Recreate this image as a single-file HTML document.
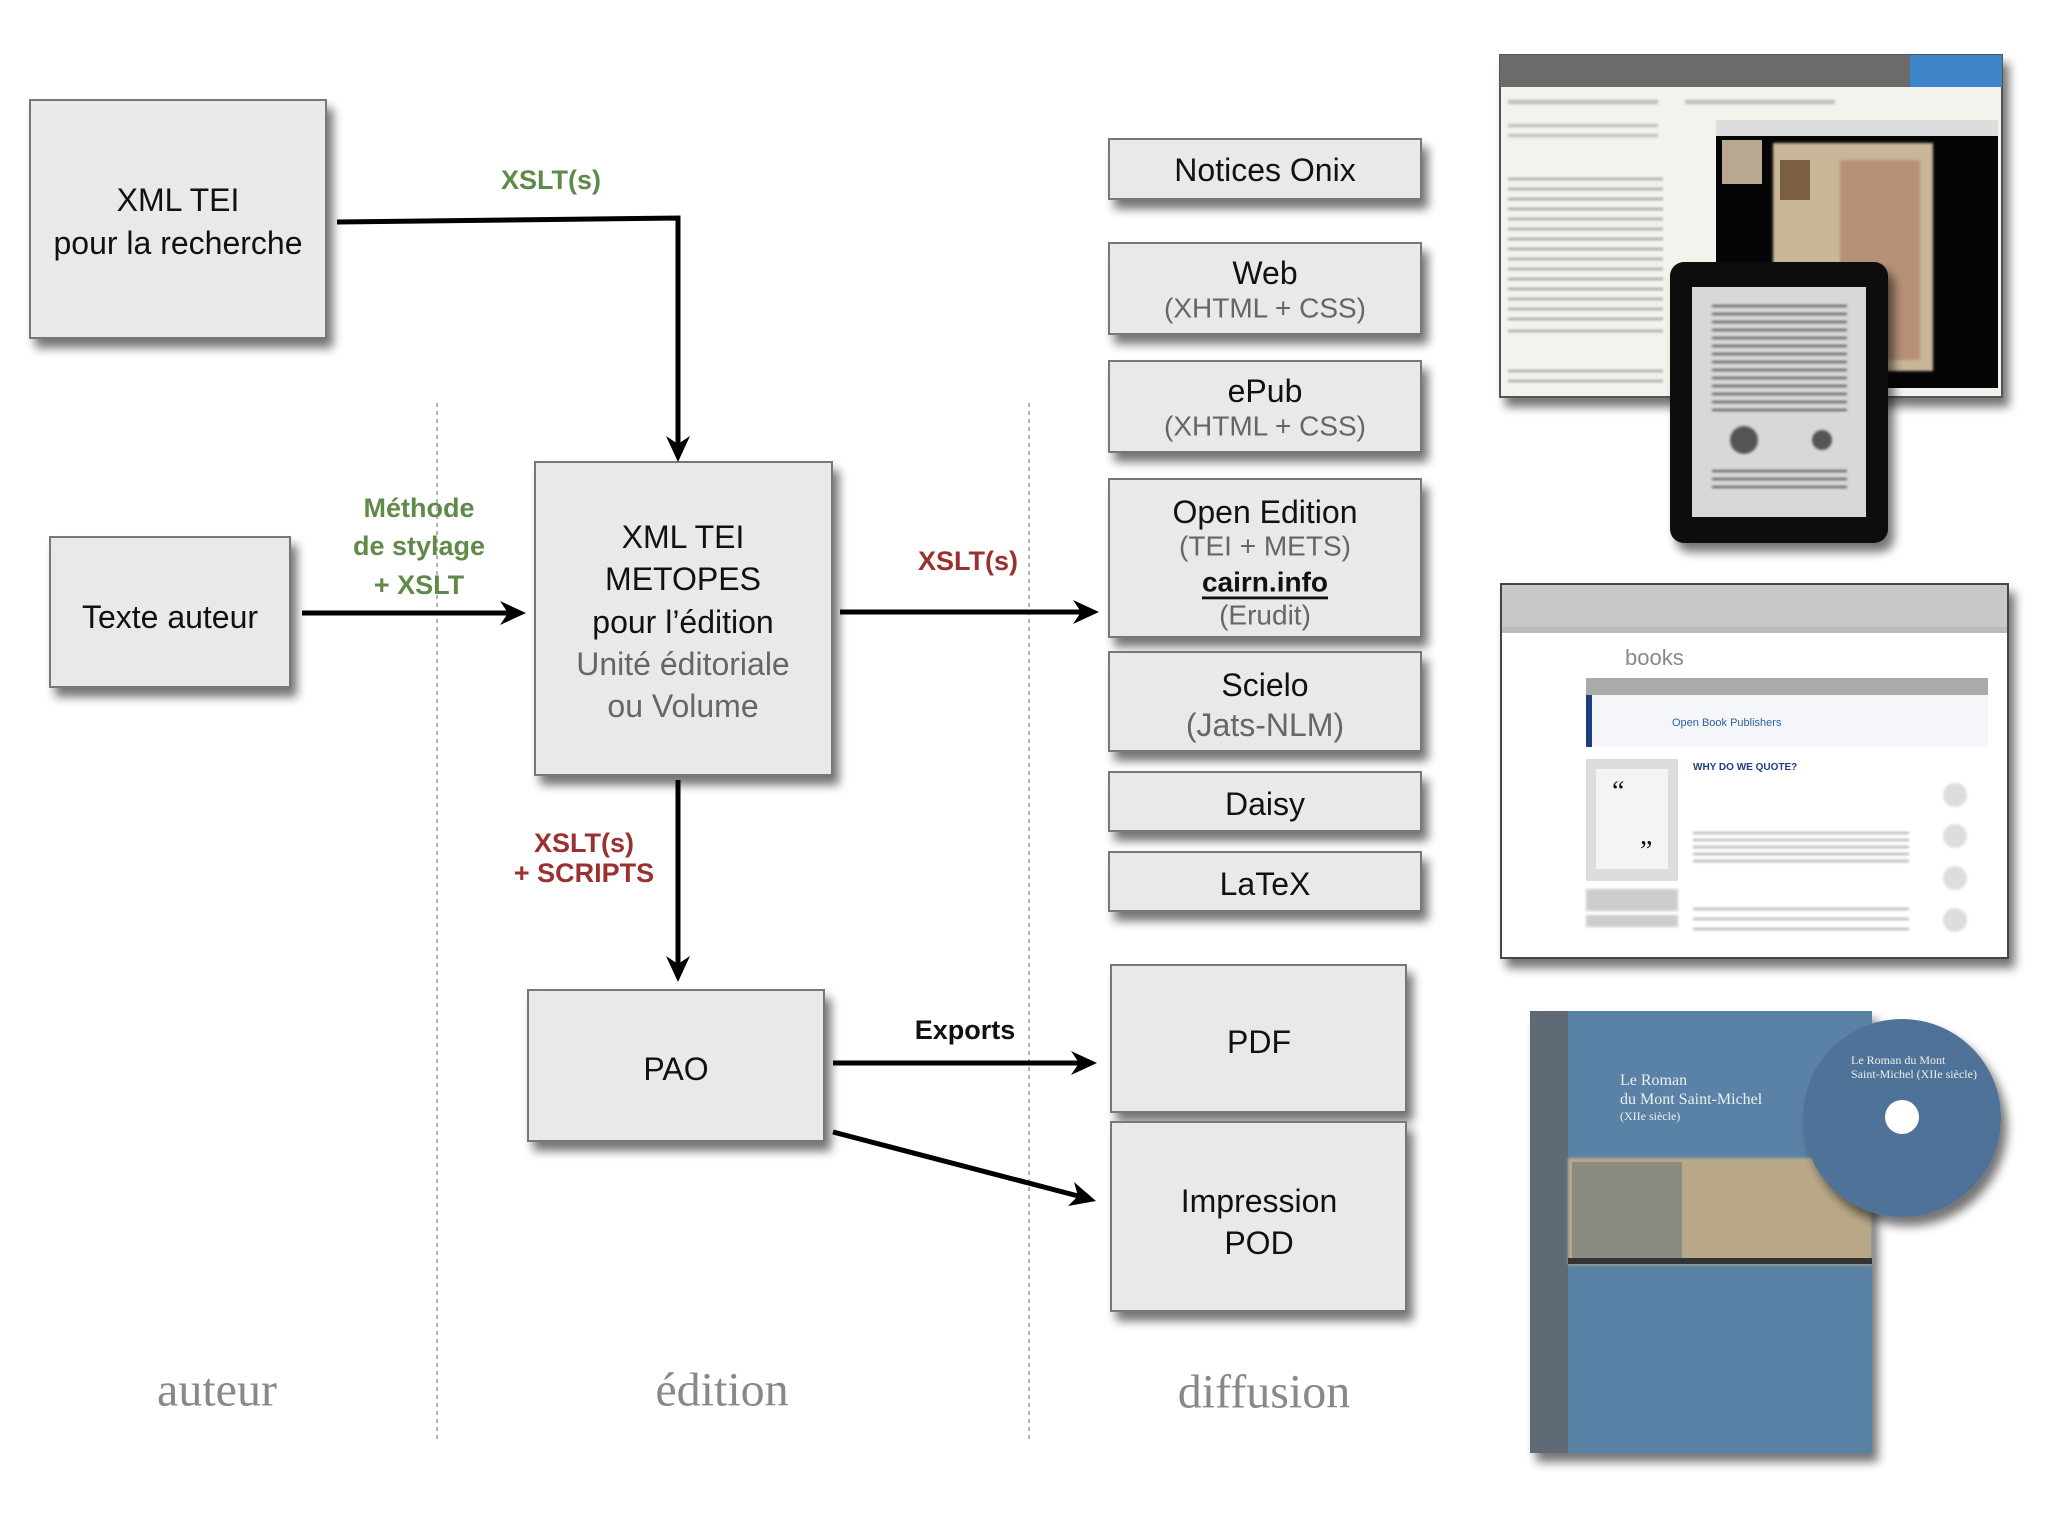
<!DOCTYPE html>
<html><head><meta charset="utf-8"><style>
html,body{margin:0;padding:0;background:#fff}
svg{display:block}
.t{font-family:"Liberation Sans",sans-serif;fill:#111;text-anchor:middle;dominant-baseline:central}
.g{fill:#666}
.lab{font-family:"Liberation Sans",sans-serif;font-weight:bold;text-anchor:middle;dominant-baseline:central;font-size:27px}
.ser{font-family:"Liberation Serif",serif;fill:#888;font-size:48px;text-anchor:middle;dominant-baseline:central}
</style></head><body>
<svg width="2048" height="1537" viewBox="0 0 2048 1537" xmlns="http://www.w3.org/2000/svg">
<defs>
<filter id="sh" x="-10%" y="-10%" width="130%" height="140%">
<feGaussianBlur in="SourceAlpha" stdDeviation="5"/><feOffset dx="6" dy="9" result="b"/>
<feComponentTransfer><feFuncA type="linear" slope="0.55"/></feComponentTransfer>
<feMerge><feMergeNode/><feMergeNode in="SourceGraphic"/></feMerge></filter>
<filter id="bl"><feGaussianBlur stdDeviation="1.2"/></filter>
<marker id="ar" markerWidth="10" markerHeight="10" refX="8" refY="5" orient="auto" markerUnits="userSpaceOnUse" viewBox="0 0 10 10">
</marker>
</defs>

<!-- dotted separators -->
<line x1="437" y1="403" x2="437" y2="1442" stroke="#999" stroke-width="1.5" stroke-dasharray="4,4"/>
<line x1="1029" y1="403" x2="1029" y2="1442" stroke="#999" stroke-width="1.5" stroke-dasharray="4,4"/>

<g fill="#e9e9e9" stroke="#777" stroke-width="2" filter="url(#sh)">
<rect x="30" y="100" width="296" height="238"/>
<rect x="50" y="537" width="240" height="150"/>
<rect x="535" y="462" width="297" height="313"/>
<rect x="528" y="990" width="296" height="151"/>
<rect x="1109" y="139" width="312" height="60"/>
<rect x="1109" y="243" width="312" height="91"/>
<rect x="1109" y="361" width="312" height="91"/>
<rect x="1109" y="479" width="312" height="158"/>
<rect x="1109" y="652" width="312" height="99"/>
<rect x="1109" y="772" width="312" height="59"/>
<rect x="1109" y="852" width="312" height="59"/>
<rect x="1111" y="965" width="295" height="147"/>
<rect x="1111" y="1122" width="295" height="189"/>
</g>

<!-- connectors -->
<g stroke="#000" stroke-width="5" fill="none">
<polyline points="337,222 678,218 678,448"/>
<line x1="302" y1="613" x2="512" y2="613"/>
<line x1="840" y1="612" x2="1085" y2="612"/>
<line x1="678" y1="780" x2="678" y2="970"/>
<line x1="833" y1="1063" x2="1085" y2="1063"/>
<line x1="833" y1="1132" x2="1082" y2="1197"/>
</g>
<g fill="#000">
<polygon points="678,462 666,436 678,444 690,436"/>
<polygon points="526,613 500,601 508,613 500,625"/>
<polygon points="1099,612 1073,600 1081,612 1073,624"/>
<polygon points="678,982 666,956 678,964 690,956"/>
<polygon points="1097,1063 1071,1051 1079,1063 1071,1075"/>
<polygon points="1096,1201 1074,1182 1078,1196 1068,1206"/>
</g>

<!-- labels -->
<text class="lab" x="551" y="180" fill="#5f8a4a">XSLT(s)</text>
<text class="lab" x="419" y="508" fill="#5f8a4a">Méthode</text>
<text class="lab" x="419" y="546" fill="#5f8a4a">de stylage</text>
<text class="lab" x="419" y="585" fill="#5f8a4a">+ XSLT</text>
<text class="lab" x="968" y="561" fill="#9b3030">XSLT(s)</text>
<text class="lab" x="584" y="843" fill="#9b3030">XSLT(s)</text>
<text class="lab" x="584" y="873" fill="#9b3030">+ SCRIPTS</text>
<text class="lab" x="965" y="1030" fill="#111" font-size="26">Exports</text>

<!-- box texts -->
<g class="t" font-size="32">
<text class="t" x="178" y="200">XML TEI</text>
<text class="t" x="178" y="243">pour la recherche</text>
<text class="t" x="170" y="617">Texte auteur</text>
<text class="t" x="683" y="537">XML TEI</text>
<text class="t" x="683" y="579">METOPES</text>
<text class="t" x="683" y="622">pour l’édition</text>
<text class="t g" x="683" y="664">Unité éditoriale</text>
<text class="t g" x="683" y="706">ou Volume</text>
<text class="t" x="676" y="1069">PAO</text>
<text class="t" x="1265" y="170">Notices Onix</text>
<text class="t" x="1265" y="273">Web</text>
<text class="t g" x="1265" y="308" font-size="28">(XHTML + CSS)</text>
<text class="t" x="1265" y="391">ePub</text>
<text class="t g" x="1265" y="426" font-size="28">(XHTML + CSS)</text>
<text class="t" x="1265" y="512">Open Edition</text>
<text class="t g" x="1265" y="546" font-size="28">(TEI + METS)</text>
<text class="t" x="1265" y="582" font-size="28" font-weight="bold" text-decoration="underline">cairn.info</text>
<text class="t g" x="1265" y="615" font-size="28">(Erudit)</text>
<text class="t" x="1265" y="685">Scielo</text>
<text class="t g" x="1265" y="725">(Jats-NLM)</text>
<text class="t" x="1265" y="804">Daisy</text>
<text class="t" x="1265" y="884">LaTeX</text>
<text class="t" x="1259" y="1042">PDF</text>
<text class="t" x="1259" y="1201">Impression</text>
<text class="t" x="1259" y="1243">POD</text>
</g>

<text class="ser" x="217" y="1390">auteur</text>
<text class="ser" x="722" y="1390">édition</text>
<text class="ser" x="1264" y="1392">diffusion</text>

<!-- screenshot 1 -->
<g filter="url(#sh)">
<rect x="1500" y="55" width="502" height="342" fill="#f4f2ec" stroke="#555" stroke-width="2"/>
</g>
<rect x="1500" y="55" width="502" height="32" fill="#6b6b6b"/>
<rect x="1910" y="55" width="92" height="32" fill="#3d85c8"/>
<g fill="#bbb" filter="url(#bl)">
<rect x="1508" y="100" width="150" height="4"/><rect x="1685" y="100" width="150" height="4"/>
<rect x="1508" y="124" width="150" height="3"/><rect x="1508" y="134" width="150" height="3"/>
</g>
<g fill="#999" filter="url(#bl)">
<rect x="1508" y="178" width="155" height="2"/><rect x="1508" y="188" width="155" height="2"/><rect x="1508" y="198" width="155" height="2"/><rect x="1508" y="208" width="155" height="2"/><rect x="1508" y="218" width="155" height="2"/><rect x="1508" y="228" width="155" height="2"/><rect x="1508" y="238" width="155" height="2"/><rect x="1508" y="248" width="155" height="2"/><rect x="1508" y="258" width="155" height="2"/><rect x="1508" y="268" width="155" height="2"/><rect x="1508" y="278" width="155" height="2"/><rect x="1508" y="288" width="155" height="2"/><rect x="1508" y="298" width="155" height="2"/><rect x="1508" y="308" width="155" height="2"/><rect x="1508" y="318" width="155" height="2"/><rect x="1508" y="330" width="155" height="2"/><rect x="1508" y="370" width="155" height="2"/><rect x="1508" y="380" width="155" height="2"/>
</g>
<rect x="1716" y="120" width="282" height="268" fill="#ddd"/>
<rect x="1716" y="136" width="282" height="252" fill="#050505"/>
<rect x="1722" y="140" width="40" height="44" fill="#b8a890"/>
<rect x="1773" y="143" width="160" height="228" fill="#c9b79a" filter="url(#bl)"/>
<rect x="1840" y="160" width="80" height="200" fill="#a56b55" opacity="0.5" filter="url(#bl)"/>
<rect x="1780" y="160" width="30" height="40" fill="#7a6040"/>
<!-- tablet -->
<g filter="url(#sh)"><rect x="1670" y="262" width="218" height="281" rx="14" fill="#0a0a0a"/></g>
<rect x="1692" y="287" width="174" height="230" fill="#d8d8d8"/>
<g fill="#555" filter="url(#bl)">
<rect x="1712" y="305" width="135" height="2"/><rect x="1712" y="313" width="135" height="2"/><rect x="1712" y="321" width="135" height="2"/><rect x="1712" y="329" width="135" height="2"/><rect x="1712" y="337" width="135" height="2"/><rect x="1712" y="345" width="135" height="2"/><rect x="1712" y="353" width="135" height="2"/><rect x="1712" y="361" width="135" height="2"/><rect x="1712" y="369" width="135" height="2"/><rect x="1712" y="377" width="135" height="2"/><rect x="1712" y="385" width="135" height="2"/><rect x="1712" y="393" width="135" height="2"/><rect x="1712" y="401" width="135" height="2"/><rect x="1712" y="409" width="135" height="2"/>
<circle cx="1744" cy="440" r="14"/><circle cx="1822" cy="440" r="10"/>
<rect x="1712" y="470" width="135" height="2"/><rect x="1712" y="478" width="135" height="2"/><rect x="1712" y="486" width="135" height="2"/>
</g>

<!-- screenshot 2 -->
<g filter="url(#sh)"><rect x="1501" y="584" width="507" height="374" fill="#fff" stroke="#444" stroke-width="2"/></g>
<rect x="1502" y="585" width="505" height="48" fill="#c8c8c8"/>
<rect x="1502" y="627" width="505" height="6" fill="#bbb"/>
<text x="1625" y="665" font-family="Liberation Sans,sans-serif" font-size="22" fill="#888">books</text>
<rect x="1586" y="678" width="402" height="17" fill="#aaa"/>
<rect x="1586" y="695" width="402" height="52" fill="#f4f6f9"/>
<rect x="1586" y="695" width="6" height="52" fill="#1e3f80"/>
<text x="1672" y="726" font-family="Liberation Sans,sans-serif" font-size="11" fill="#3060a8">Open Book Publishers</text>
<rect x="1586" y="759" width="92" height="122" fill="#ddd"/>
<rect x="1596" y="769" width="72" height="100" fill="#f4f4f4"/>
<text x="1612" y="800" font-family="Liberation Serif,serif" font-size="28" fill="#111">“</text>
<text x="1640" y="860" font-family="Liberation Serif,serif" font-size="28" fill="#111">”</text>
<text x="1693" y="770" font-family="Liberation Sans,sans-serif" font-size="10" font-weight="bold" fill="#1e3f80">WHY DO WE QUOTE?</text>
<g fill="#aaa" filter="url(#bl)">
<rect x="1693" y="832" width="216" height="2"/><rect x="1693" y="839" width="216" height="2"/><rect x="1693" y="846" width="216" height="2"/><rect x="1693" y="853" width="216" height="2"/><rect x="1693" y="860" width="216" height="2"/>
<rect x="1693" y="908" width="216" height="2"/><rect x="1693" y="918" width="216" height="2"/><rect x="1693" y="928" width="216" height="2"/>
<rect x="1586" y="889" width="92" height="22" fill="#ccc"/><rect x="1586" y="915" width="92" height="12" fill="#ccc"/>
<circle cx="1955" cy="795" r="12" fill="#ddd"/><circle cx="1955" cy="836" r="12" fill="#ddd"/><circle cx="1955" cy="878" r="12" fill="#ddd"/><circle cx="1955" cy="920" r="12" fill="#ddd"/>
</g>

<!-- book -->
<g filter="url(#sh)"><rect x="1530" y="1011" width="342" height="442" fill="#5a82a6"/></g>
<rect x="1530" y="1011" width="38" height="442" fill="#5e6a76"/>
<rect x="1568" y="1158" width="304" height="107" fill="#b8a888" filter="url(#bl)"/>
<rect x="1572" y="1162" width="110" height="100" fill="#6b7a80" opacity="0.6"/>
<rect x="1568" y="1258" width="304" height="6" fill="#333"/>
<g font-family="Liberation Serif,serif" fill="#eee">
<text x="1620" y="1085" font-size="16">Le Roman</text>
<text x="1620" y="1104" font-size="16">du Mont Saint-Michel</text>
<text x="1620" y="1120" font-size="12">(XIIe siècle)</text>
</g>
<g filter="url(#sh)"><circle cx="1902" cy="1118" r="99" fill="#4f7398"/></g>
<circle cx="1902" cy="1117" r="17" fill="#fff"/>
<g font-family="Liberation Serif,serif" fill="#eee">
<text x="1851" y="1064" font-size="12">Le Roman du Mont</text>
<text x="1851" y="1078" font-size="12">Saint-Michel (XIIe siècle)</text>
</g>
</svg>
</body></html>
